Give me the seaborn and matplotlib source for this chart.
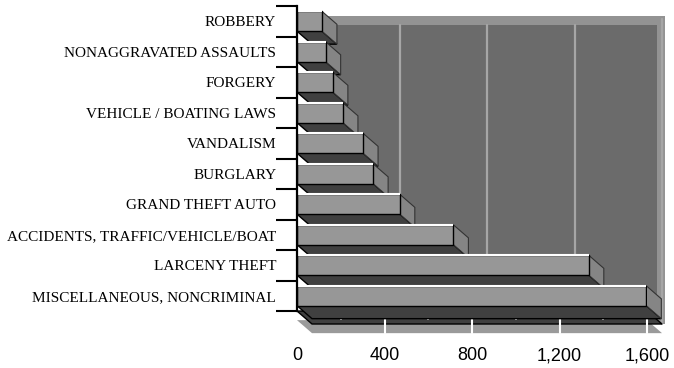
"""
Arrests by offence - 3D style horizontal bar chart (Excel look)
"""

import matplotlib
matplotlib.use('Agg')
import matplotlib.pyplot as plt
from matplotlib.patches import Polygon, Rectangle
from matplotlib.ticker import FixedLocator, FuncFormatter
import seaborn as sns

# Data
categories = ['ROBBERY', 'NONAGGRAVATED ASSAULTS', 'FORGERY', 'VEHICLE / BOATING LAWS',
              'VANDALISM', 'BURGLARY', 'GRAND THEFT AUTO',
              'ACCIDENTS, TRAFFIC/VEHICLE/BOAT', 'LARCENY THEFT',
              'MISCELLANEOUS, NONCRIMINAL']
counts = [114, 131, 164, 210, 302, 348, 470, 715, 1334, 1597]
x_ticks = [0, 400, 800, 1200, 1600]
floor_minor = [200, 600, 1000, 1400]

sns.set_theme(style='white')
plt.rcParams['font.family'] = ['Liberation Sans', 'DejaVu Sans']

# colours
FRONT = '#979797'
SIDE = '#858585'
BOTTOM = '#404040'
WALL = '#6b6b6b'
WALL_EDGE = '#939393'
GRID = '#a6a6a6'

fig = plt.figure(figsize=(6.74, 3.68), dpi=100)
ax = fig.add_axes([297 / 674, 1 - 311 / 368, 350 / 674, 305 / 368])
ax.patch.set_visible(False)

xmax = x_ticks[-1]
# depth of the 3D effect, in data units (about 15 px right, 13 px down)
DX = 15 / (350 / xmax)
DY = 13 / (305 / len(categories))
n = len(categories)
top, bot = -0.5, n - 0.5

# back wall
ax.add_patch(Rectangle((DX, top + DY - 0.1), xmax + 14, bot - top + 0.1,
                       facecolor=WALL_EDGE, edgecolor='none', zorder=0, clip_on=False))
ax.add_patch(Rectangle((DX, top + DY + 0.2), xmax - 23, bot - top - 0.2,
                       facecolor=WALL, edgecolor='none', zorder=0.5, clip_on=False))
for v in x_ticks[1:]:
    ax.plot([v + DX, v + DX], [top + DY + 0.2 if v < xmax else top + DY, bot + DY],
            color=GRID, lw=1.6, zorder=1, clip_on=False)

# floor
T = 0.3
ax.add_patch(Polygon([(0, bot + T), (xmax, bot + T), (xmax + DX, bot + DY + T), (DX, bot + DY + T)],
                     closed=True, facecolor='#9a9a9a', edgecolor='none', zorder=1.2, clip_on=False))
ax.add_patch(Polygon([(0, bot), (xmax, bot), (xmax + DX, bot + DY), (DX, bot + DY)],
                     closed=True, facecolor=BOTTOM, edgecolor='black', lw=1, zorder=1.4, clip_on=False))
for v in x_ticks[1:]:
    ax.plot([v, v], [bot, bot + DY + T], color='white', lw=1.5, zorder=1.6, clip_on=False)
for v in floor_minor:
    ax.plot([v, v], [bot, bot + 0.25], color='white', lw=1.5, zorder=1.6, clip_on=False)

# front faces
sns.barplot(x=counts, y=categories, orient='h', color=FRONT, saturation=1,
            width=0.65, edgecolor='black', linewidth=1, ax=ax, zorder=5)

for p in list(ax.patches):
    if p.get_zorder() != 5:
        continue
    y0, h, w = p.get_y(), p.get_height(), p.get_width()
    yb = y0 + h
    # bottom face
    ax.add_patch(Polygon([(0, yb), (w, yb), (w + DX, yb + DY), (DX, yb + DY)], closed=True,
                         facecolor=BOTTOM, edgecolor='black', lw=1, zorder=3, clip_on=False))
    # end face
    ax.add_patch(Polygon([(w, y0), (w + DX, y0 + DY), (w + DX, yb + DY), (w, yb)], closed=True,
                         facecolor=SIDE, edgecolor='#333333', lw=0.8, zorder=3, clip_on=False))
    # highlight on the top edge
    ax.plot([0, w], [y0, y0], color='white', lw=1.5, zorder=6, solid_capstyle='butt')

ax.set_xlim(0, xmax)
ax.set_ylim(bot, top)
ax.set_xlabel('')
ax.set_ylabel('')

for s in ['top', 'right', 'bottom']:
    ax.spines[s].set_visible(False)
ax.spines['left'].set_color('black')
ax.spines['left'].set_linewidth(1.6)
ax.spines['left'].set_zorder(7)

# y axis: labels at band centres, long black ticks at band edges
ax.yaxis.set_major_locator(FixedLocator(range(n)))
ax.set_yticklabels(categories, fontsize=11, family=['Liberation Serif', 'DejaVu Serif'])
ax.yaxis.set_minor_locator(FixedLocator([i - 0.5 for i in range(n + 1)]))
ax.tick_params(axis='y', which='major', direction='in', length=3, width=1,
               color='white', pad=15, left=True, labelcolor='black')
ax.tick_params(axis='y', which='minor', direction='out', length=15, width=1.5,
               color='black', left=True)

# x axis labels only
ax.xaxis.set_major_locator(FixedLocator(x_ticks))
ax.xaxis.set_major_formatter(FuncFormatter(lambda v, _: f'{int(v):,}'))
ax.tick_params(axis='x', which='both', length=0, pad=26, labelsize=13, bottom=False,
               labelcolor='black')

ax.grid(False)
plt.savefig('out.png', dpi=100)
plt.close()
